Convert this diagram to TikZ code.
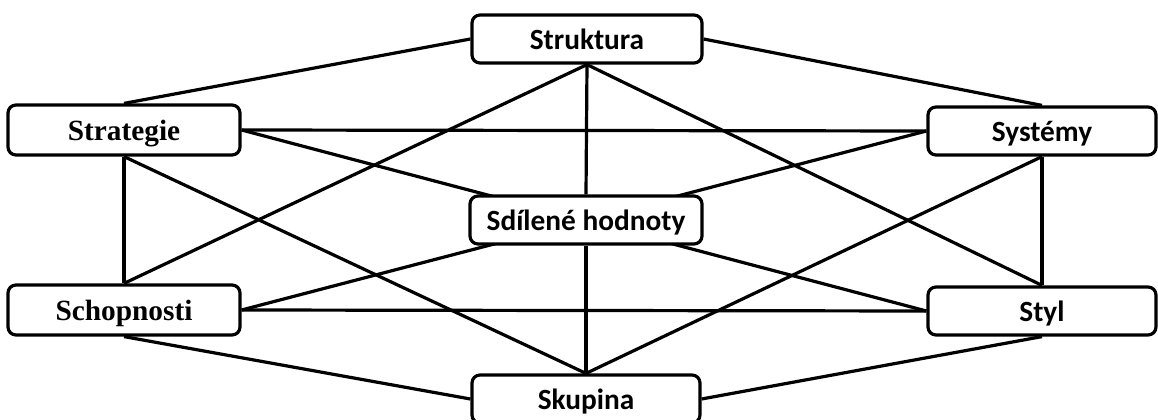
\documentclass[tikz,border=0pt]{standalone}
\usepackage{fontspec}
\setmainfont{Carlito}
\newfontfamily\serifbox{Liberation Serif}
\usetikzlibrary{backgrounds}
\tikzset{
  box/.style={draw, line width=2.4pt, rounded corners=6pt, fill=white,
    inner sep=0pt, text depth=0pt, font=\fontsize{22}{24}\selectfont\bfseries},
  serifbox/.style={box, font=\serifbox\fontsize{22}{24}\selectfont\bfseries},
  link/.style={line width=2.4pt},
}
\begin{document}
\begin{tikzpicture}[x=0.75pt, y=-0.75pt]
  \useasboundingbox (0,0) rectangle (1158,420);
  \clip (0,0) rectangle (1158,420);
  % the seven elements
  \node[box, minimum width=172.5pt, minimum height=36pt] (struktura) at (587,39) {Struktura};
  \node[serifbox, minimum width=174pt, minimum height=37.5pt] (strategie) at (124,130) {Strategie};
  \node[box, minimum width=171pt, minimum height=36pt] (systemy) at (1042,131) {Systémy};
  \node[box, minimum width=174pt, minimum height=36pt] (hodnoty) at (586,220) {Sdílené hodnoty};
  \node[serifbox, minimum width=174pt, minimum height=37.5pt] (schopnosti) at (124,310) {Schopnosti};
  \node[box, minimum width=171pt, minimum height=36pt] (styl) at (1042,311) {Styl};
  \node[box, minimum width=171pt, minimum height=36pt] (skupina) at (586,399) {Skupina};
  % every element is linked with the others
  \begin{pgfonlayer}{background}
    \draw[link] (struktura.west) -- (strategie.north);
    \draw[link] (struktura.east) -- (systemy.north);
    \draw[link] (struktura.south) -- (hodnoty.north);
    \draw[link] (struktura.south) -- (schopnosti.north);
    \draw[link] (struktura.south) -- (styl.north);
    \draw[link] (strategie.east) -- (systemy.west);
    \draw[link] (strategie.east) -- (styl.west);
    \draw[link] (strategie.south) -- (schopnosti.north);
    \draw[link] (strategie.south) -- (skupina.north);
    \draw[link] (systemy.south) -- (styl.north);
    \draw[link] (systemy.south) -- (skupina.north);
    \draw[link] (schopnosti.east) -- (systemy.west);
    \draw[link] (schopnosti.east) -- (styl.west);
    \draw[link] (hodnoty.south) -- (skupina.north);
    \draw[link] (schopnosti.south) -- (skupina.west);
    \draw[link] (styl.south) -- (skupina.east);
  \end{pgfonlayer}
\end{tikzpicture}
\end{document}
